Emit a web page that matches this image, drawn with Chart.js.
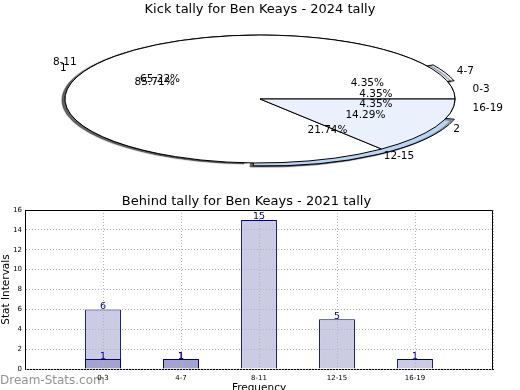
<!DOCTYPE html>
<html lang="en">
<head>
<meta charset="UTF-8">
<title>Ben Keays tallies</title>
<script src="https://cdn.jsdelivr.net/npm/chart.js"></script>
<style>
  html, body { margin: 0; padding: 0; background: #fff; overflow: hidden; }
  body { width: 520px; height: 390px; position: relative; }
  #kickWrap { position: absolute; left: 0; top: 0; width: 520px; height: 190px; }
  #behindWrap { position: absolute; left: 0; top: 193px; width: 520px; height: 202px; }
</style>
</head>
<body>
<div id="kickWrap"><canvas id="kickChart" width="520" height="190"></canvas></div>
<div id="behindWrap"><canvas id="behindChart" width="520" height="202"></canvas></div>

<script>
// data
const bins = ['0-3', '4-7', '8-11', '12-15', '16-19'];
const kickCounts = [1, 1, 15, 5, 1];
const splitLabels = ['1', '2'];
const splitCounts = [6, 1];
const behindTotals = [6, 1, 15, 5, 1];
const behindLower = [1, 1, null, null, null];
const yTicks = [0, 2, 4, 6, 8, 10, 12, 14, 16];

Chart.defaults.font.family = 'DejaVu Sans';
Chart.defaults.color = '#000';

const pieR = 195;
const squash = 0.328;

// flat "3d" look: squash the pie into an ellipse, keep line widths even
const ellipsePie = {
    id: 'ellipsePie',
    afterDatasetsUpdate(chart) {
        chart.data.datasets.forEach((ds, i) => {
            chart.getDatasetMeta(i).data.forEach(arc => {
                arc.outerRadius = pieR;
                arc.innerRadius = 0;
            });
        });
    },
    beforeDatasetsDraw(chart) {
        const ctx = chart.ctx;
        const c = chart.getDatasetMeta(0).data[0];
        ctx.save();
        ctx.translate(c.x, c.y);
        ctx.scale(1, -squash);
        ctx.translate(-c.x, -c.y);
        ctx.stroke = function () {
            this.save();
            this.setTransform(1, 0, 0, 1, 0, 0);
            CanvasRenderingContext2D.prototype.stroke.call(this);
            this.restore();
        };
    },
    beforeDatasetDraw(chart, args) {
        // only the lower pie throws a shadow
        const ctx = chart.ctx;
        ctx.shadowColor = args.index === 1 ? 'rgba(0,0,0,0.6)' : 'rgba(0,0,0,0)';
        ctx.shadowOffsetX = -3;
        ctx.shadowOffsetY = 1;
        ctx.shadowBlur = 1;
    },
    afterDatasetsDraw(chart) {
        const ctx = chart.ctx;
        delete ctx.stroke;
        ctx.restore();

        const writeLabels = (metaIndex, names, values) => {
            const total = values.reduce((a, b) => a + b, 0);
            chart.getDatasetMeta(metaIndex).data.forEach((arc, i) => {
                const mid = (arc.startAngle + arc.endAngle) / 2;
                const ox = Math.cos(mid);
                const oy = -Math.sin(mid) * squash;
                ctx.textAlign = ox >= 0 ? 'left' : 'right';
                ctx.fillText(names[i], arc.x + 1.1 * pieR * ox, arc.y + 1.1 * pieR * oy);
                ctx.textAlign = 'center';
                ctx.fillText((values[i] / total * 100).toFixed(2) + '%', arc.x + 0.6 * pieR * ox, arc.y + 0.6 * pieR * oy);
            });
        };
        ctx.save();
        ctx.font = '10.5px "DejaVu Sans"';
        ctx.fillStyle = '#000';
        ctx.textBaseline = 'middle';
        writeLabels(1, bins, kickCounts);
        writeLabels(0, splitLabels, splitCounts);
        ctx.restore();
    }
};

new Chart(document.getElementById('kickChart'), {
    type: 'pie',
    data: {
        labels: bins,
        datasets: [
            {
                data: splitCounts,
                backgroundColor: ['#ffffff', '#eaf1fd'],
                borderColor: '#000',
                borderWidth: 1
            },
            {
                data: kickCounts,
                backgroundColor: ['#ffffff', '#e8effc', '#ffffff', '#bbd4f5', '#ffffff'],
                borderColor: '#000',
                borderWidth: 1,
                offset: [0, 16, 0, 44, 0]
            }
        ]
    },
    options: {
        responsive: false,
        animation: false,
        events: [],
        rotation: 90,
        layout: { padding: { bottom: 9.6 } },
        plugins: {
            legend: { display: false },
            tooltip: { enabled: false },
            title: {
                display: true,
                text: 'Kick tally for Ben Keays - 2024 tally',
                font: { size: 13, weight: 'normal' },
                color: '#000',
                padding: { top: 2, bottom: 0 }
            }
        }
    },
    plugins: [ellipsePie]
});

// frame, value labels, watermark
const barExtras = {
    id: 'barExtras',
    beforeDraw(chart) {
        const ctx = chart.ctx;
        ctx.save();
        ctx.font = '12px "DejaVu Sans"';
        ctx.fillStyle = 'rgba(120,120,120,0.8)';
        ctx.textBaseline = 'middle';
        ctx.fillText('Dream-Stats.com', 0, 188);
        ctx.restore();
    },
    afterDraw(chart) {
        const { ctx, chartArea: a } = chart;
        ctx.save();
        ctx.strokeStyle = '#000';
        ctx.lineWidth = 1;
        ctx.beginPath();
        ctx.moveTo(a.left, Math.round(a.top) + 0.5);
        ctx.lineTo(Math.round(a.right) - 0.5, Math.round(a.top) + 0.5);
        ctx.lineTo(Math.round(a.right) - 0.5, a.bottom);
        ctx.stroke();

        ctx.font = '9.5px "DejaVu Sans"';
        ctx.fillStyle = '#00008b';
        ctx.textAlign = 'center';
        ctx.textBaseline = 'middle';
        [1, 0].forEach(di => {
            const values = chart.data.datasets[di].data;
            chart.getDatasetMeta(di).data.forEach((bar, i) => {
                if (values[i] == null) return;
                ctx.fillText(String(values[i]), bar.x, bar.y - 3);
            });
        });
        ctx.restore();
    }
};

const gridStyle = { color: '#b4b4b4', z: 1, drawTicks: false };
const borderStyle = { color: '#000', z: 1, dash: [1, 2] };

new Chart(document.getElementById('behindChart'), {
    type: 'bar',
    data: {
        labels: ['', ...bins, ''],
        datasets: [
            {
                data: [null, ...behindLower, null],
                backgroundColor: '#a3a3cf',
                borderColor: '#000080',
                borderWidth: 1,
                grouped: false,
                barPercentage: 0.46,
                categoryPercentage: 1
            },
            {
                data: [null, ...behindTotals, null],
                backgroundColor: '#cbcbe3',
                borderColor: '#000080',
                borderWidth: 1,
                grouped: false,
                barPercentage: 0.46,
                categoryPercentage: 1
            }
        ]
    },
    options: {
        responsive: false,
        animation: false,
        events: [],
        layout: { padding: { right: 27 } },
        plugins: {
            legend: { display: false },
            tooltip: { enabled: false },
            title: {
                display: true,
                text: 'Behind tally for Ben Keays - 2021 tally',
                font: { size: 13, weight: 'normal' },
                color: '#000',
                padding: { top: 1, bottom: 0.4 }
            }
        },
        scales: {
            x: {
                offset: false,
                grid: { ...gridStyle, offset: false },
                border: borderStyle,
                ticks: { font: { size: 7 }, padding: 5, maxRotation: 0, autoSkip: false },
                title: { display: true, text: 'Frequency', font: { size: 10.5 }, padding: 0 },
                afterFit: s => { s.height = 26; }
            },
            y: {
                min: yTicks[0],
                max: yTicks[yTicks.length - 1],
                grid: gridStyle,
                border: borderStyle,
                ticks: { stepSize: yTicks[1] - yTicks[0], font: { size: 7 }, padding: 3 },
                title: { display: true, text: 'Stat Intervals', font: { size: 10.5 }, padding: 0 },
                afterFit: s => { s.width = 25; }
            }
        }
    },
    plugins: [barExtras]
});
</script>
</body>
</html>
